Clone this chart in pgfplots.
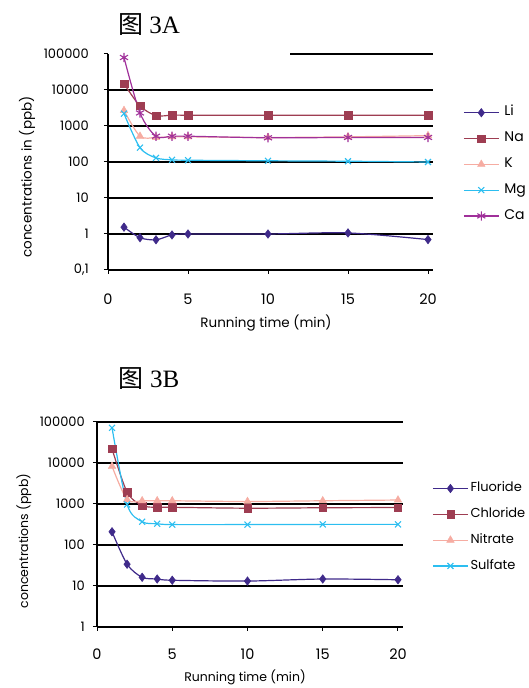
\documentclass[border=0pt]{standalone}
\usepackage{pgfplots}
\pgfplotsset{compat=1.18}
\usepackage{fontspec}
\setmainfont{Poppins}
\newfontfamily\cjk{Noto Sans CJK SC}
\newfontfamily\titlefont{Liberation Serif}
\definecolor{cLi}{RGB}{63,42,138}
\definecolor{cNa}{RGB}{158,61,82}
\definecolor{cK}{RGB}{246,172,162}
\definecolor{cMg}{RGB}{44,190,240}
\definecolor{cCa}{RGB}{160,48,154}
\pgfplotsset{
  myaxis/.style={
    scale only axis,
    xmin=0, xmax=20.3,
    axis x line*=bottom, axis y line*=left,
    axis line style={-, black, line width=1.4pt},
    xtick={0,5,10,15,20}, xticklabels={0,5,10,15,20},
    yminorticks=false,
    ymajorgrids, major grid style={black, line width=1.3pt},
    tick style={black, line width=1pt},
    tick align=outside, major tick length=4pt,
    /pgf/number format/assume math mode=true,
    xticklabel style={anchor=center, font=\fontsize{14.5}{14.5}\selectfont},
    yticklabel style={anchor=east, inner sep=0pt, font=\fontsize{13}{13}\selectfont},
    legend style={draw=none, fill=none, anchor=north west, inner sep=0pt,
      nodes={inner sep=0pt, text height=9.5pt, text depth=3pt},
      column sep=5pt},
    legend cell align=left,
    legend image code/.code={\draw[mark repeat=2,mark phase=2,##1] plot coordinates {(0pt,0pt) (17.5pt,0pt) (35pt,0pt)};},
  },
  sLi/.style={color=cLi, line width=1.2pt, smooth, tension=0.5, mark=diamond*, mark size=4.2pt, mark options={solid, fill=cLi, line width=0.6pt}},
  sNa/.style={color=cNa, line width=1.2pt, smooth, tension=0.5, mark=square*, mark size=3.7pt, mark options={solid, fill=cNa, line width=0.4pt}},
  sK/.style={color=cK, line width=1.2pt, smooth, tension=0.5, mark=triangle*, mark size=4.4pt, mark options={solid, fill=cK, line width=0.4pt}},
  sMg/.style={color=cMg, line width=1.2pt, smooth, tension=0.5, mark=x, mark size=4.2pt, mark options={solid, line width=1.1pt}},
  sCa/.style={color=cCa, line width=1.2pt, smooth, tension=0.5, mark=asterisk, mark size=4.6pt, mark options={solid, line width=1.1pt}},
}
\begin{document}
\begin{tikzpicture}[x=1pt,y=1pt]
\useasboundingbox (0,0) rectangle (528,688);
% ---------- Figure 3A ----------
\begin{axis}[ymode=log, myaxis,
  at={(108pt,418pt)}, anchor=south west,
  width=324.8pt, height=216pt,
  ymin=0.1, ymax=100000,
  ytick={0.1,1,10,100,1000,10000},
  yticklabels={{0,1},1,10,100,1000,10000},
  extra y ticks={100000}, extra y tick labels={100000},
  extra y tick style={grid=none},
  xticklabel style={yshift=-25pt},
  yticklabel style={xshift=-15pt},
  legend style={at={(1.093,0.758)}, row sep=13.3pt, font=\fontsize{14}{14}\selectfont},
]
\addplot[sLi] coordinates {(1,1.55) (2,0.79) (3,0.69) (4,0.94) (5,1.0) (10,1.0) (15,1.07) (20,0.7)};
\addlegendentry{Li}
\addplot[sNa] coordinates {(1,15000) (2,3600) (3,1950) (4,2000) (5,2000) (10,2000) (15,2000) (20,2000)};
\addlegendentry{Na}
\addplot[sK] coordinates {(1,2700) (2,520) (3,480) (4,500) (5,500) (10,480) (15,500) (20,540)};
\addlegendentry{K}
\addplot[sMg] coordinates {(1,2200) (2,250) (3,130) (4,115) (5,112) (10,108) (15,105) (20,100)};
\addlegendentry{Mg}
\addplot[sCa] coordinates {(1,80000) (2,2300) (3,520) (4,520) (5,520) (10,470) (15,480) (20,480)};
\addlegendentry{Ca}
\draw[black, line width=1.3pt] (axis cs:11.4,100000) -- (axis cs:20.3,100000);
\end{axis}
% ---------- Figure 3B ----------
\begin{axis}[ymode=log, myaxis,
  at={(97pt,61pt)}, anchor=south west,
  width=305.5pt, height=205pt,
  ymin=1, ymax=100000,
  ytick={1,10,100,1000,10000,100000},
  yticklabels={1,10,100,1000,10000,100000},
  xticklabel style={yshift=-23pt},
  yticklabel style={xshift=-8pt},
  legend style={at={(1.097,0.707)}, row sep=13.3pt, column sep=2pt, font=\fontsize{13}{13}\selectfont},
]
\addplot[sLi] coordinates {(1,210) (2,34) (3,16.3) (4,14.8) (5,13.8) (10,13.2) (15,14.8) (20,14.2)};
\addlegendentry{Fluoride}
\addplot[sNa] coordinates {(1,22000) (2,1950) (3,920) (4,830) (5,830) (10,790) (15,810) (20,820)};
\addlegendentry{Chloride}
\addplot[sK] coordinates {(1,8300) (2,1280) (3,1200) (4,1200) (5,1200) (10,1150) (15,1200) (20,1250)};
\addlegendentry{Nitrate}
\addplot[sMg] coordinates {(1,72000) (2,970) (3,370) (4,330) (5,315) (10,315) (15,318) (20,318)};
\addlegendentry{Sulfate}
\end{axis}
% ---------- titles and labels ----------
\node[anchor=center] at (149,663) {\fontsize{25}{25}\selectfont\cjk 图\titlefont\ 3A};
\node[anchor=center] at (149,309) {\fontsize{25}{25}\selectfont\cjk 图\titlefont\ 3B};
\node[anchor=center, font=\fontsize{13.5}{13.5}\selectfont] at (266,365) {Running time (min)};
\node[anchor=center, rotate=90, font=\fontsize{13.5}{13.5}\selectfont] at (27,511) {concentrations in (ppb)};
\node[anchor=center, font=\fontsize{12.5}{12.5}\selectfont] at (245,11) {Running time (min)};
\node[anchor=center, rotate=90, font=\fontsize{12.5}{12.5}\selectfont] at (24,147) {concentrations (ppb)};
\end{tikzpicture}
\end{document}
